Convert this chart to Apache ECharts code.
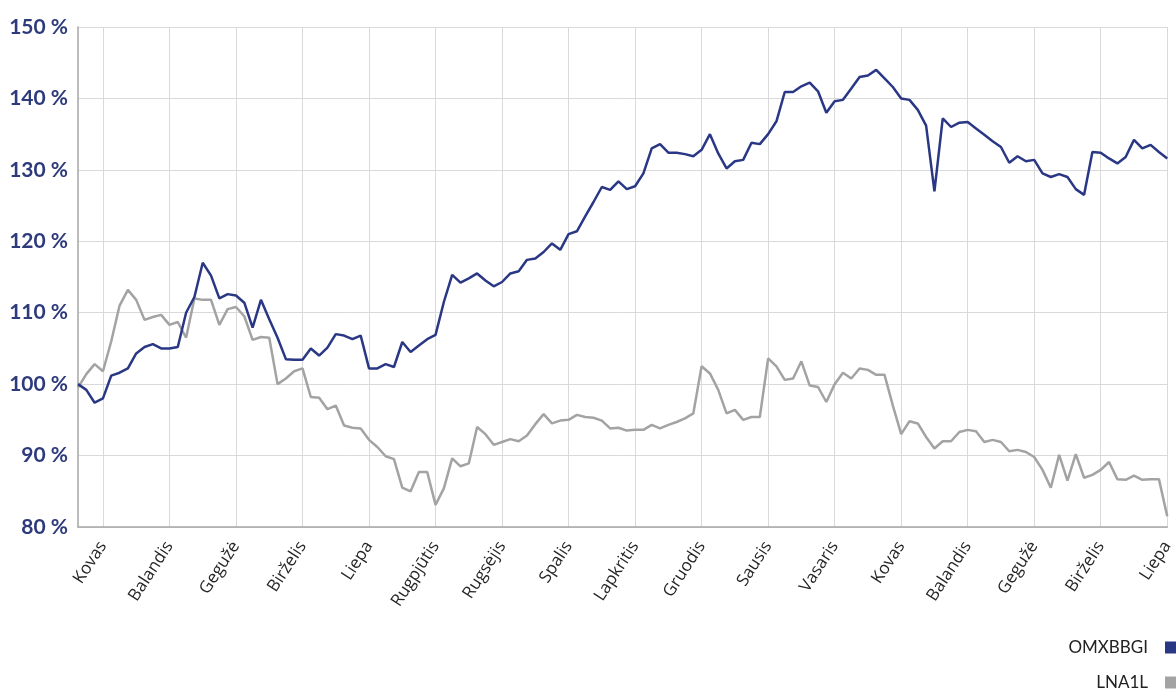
<!DOCTYPE html>
<html>
<head>
<meta charset="utf-8">
<script src="https://cdn.jsdelivr.net/npm/echarts@6/dist/echarts.min.js"></script>
<style>
html,body{margin:0;padding:0;background:#fff;}
#chart{width:1176px;height:696px;}
</style>
</head>
<body>
<div id="chart"></div>
<script>
// Month tick labels (one every 8 samples, first at sample 3)
var months = ['Kovas','Balandis','Gegužė','Birželis','Liepa','Rugpjūtis','Rugsėjis','Spalis','Lapkritis','Gruodis','Sausis','Vasaris','Kovas','Balandis','Gegužė','Birželis','Liepa'];
var samplesPerMonth = 8;
var firstMonthIndex = 3;

var seriesNames = ['OMXBBGI', 'LNA1L'];

var omxbbgi = [
100.0,99.2,97.4,98.0,101.2,101.6,102.2,104.3,105.2,105.6,105.0,105.0,105.2,110.0,112.2,117.0,115.2,112.0,
112.6,112.4,111.4,107.9,111.8,109.1,106.5,103.5,103.4,103.4,105.0,104.0,105.1,107.0,106.8,106.3,
106.8,102.2,102.2,102.8,102.4,105.9,104.5,105.4,106.3,106.9,111.5,115.3,114.2,114.8,115.5,114.5,113.7,
114.3,115.5,115.8,117.4,117.6,118.5,119.7,118.8,121.0,121.4,123.5,125.5,127.6,127.2,128.4,127.3,127.7,
129.5,133.0,133.6,132.4,132.4,132.2,131.9,132.8,135.0,132.3,130.2,131.2,131.4,133.8,133.6,135.0,136.8,
140.9,140.9,141.7,142.2,141.0,138.0,139.6,139.8,141.4,143.0,143.2,144.0,142.8,141.6,140.0,139.8,
138.4,136.2,127.0,137.2,136.0,136.6,136.7,135.8,134.9,134.0,133.2,131.0,131.9,131.2,131.4,129.5,129.0,
129.4,129.0,127.3,126.5,132.5,132.4,131.6,130.9,131.8,134.2,133.0,133.5,132.5,131.6
];

var lna1l = [
99.5,101.4,102.8,101.8,106.0,111.0,113.2,111.8,109.0,109.4,109.7,108.3,108.7,106.5,112.0,111.8,111.8,108.3,
110.5,110.8,109.5,106.2,106.6,106.5,100.0,100.8,101.8,102.2,98.2,98.1,96.5,97.0,94.2,93.9,
93.8,92.2,91.2,89.9,89.5,85.5,85.0,87.7,87.7,83.1,85.4,89.6,88.5,88.9,94.0,93.0,91.5,
91.9,92.3,92.0,92.8,94.4,95.8,94.5,94.9,95.0,95.7,95.4,95.3,94.9,93.8,93.9,93.5,93.6,
93.6,94.3,93.8,94.3,94.7,95.2,95.9,102.5,101.5,99.2,95.9,96.4,95.0,95.4,95.4,103.6,102.5,
100.6,100.8,103.2,99.8,99.6,97.5,100.0,101.6,100.8,102.2,102.0,101.3,101.3,97.0,93.0,94.8,
94.5,92.6,91.0,92.0,92.0,93.3,93.6,93.4,91.9,92.2,91.9,90.6,90.8,90.5,89.8,88.0,85.5,
90.1,86.5,90.2,86.9,87.3,88.0,89.1,86.7,86.6,87.2,86.6,86.7,86.7,81.5
];

var yTicks = { min: 80, max: 150, step: 10 };

var categories = omxbbgi.map(function (v, i) { return 's' + i; });
function isMonthTick(idx) {
  return idx >= firstMonthIndex && (idx - firstMonthIndex) % samplesPerMonth === 0;
}

var chart = echarts.init(document.getElementById('chart'), null, { renderer: 'canvas' });
chart.setOption({
  animation: false,
  backgroundColor: '#ffffff',
  grid: { left: 78, right: 6, top: 27, bottom: 169, containLabel: false },
  legend: {
    orient: 'vertical',
    right: 0,
    top: 639,
    padding: 0,
    align: 'right',
    icon: 'rect',
    itemWidth: 11,
    itemHeight: 12,
    itemGap: 18,
    textStyle: { color: '#222', fontSize: 17, fontFamily: 'Lato', padding: [0, 12, 0, 0] },
    data: seriesNames
  },
  xAxis: {
    type: 'category',
    data: categories,
    boundaryGap: false,
    axisLine: { show: true, lineStyle: { color: '#a6a6a6', width: 1.5 } },
    axisTick: { show: false },
    axisLabel: {
      interval: function (idx) { return isMonthTick(idx); },
      formatter: function (val, idx) { return months[(idx - firstMonthIndex) / samplesPerMonth]; },
      rotate: 57,
      margin: 16,
      color: '#262626',
      fontSize: 17,
      fontFamily: 'Open Sans'
    },
    splitLine: {
      show: true,
      interval: function (idx) { return isMonthTick(idx); },
      lineStyle: { color: '#d9d9d9', width: 1 }
    }
  },
  yAxis: {
    type: 'value',
    min: yTicks.min,
    max: yTicks.max,
    interval: yTicks.step,
    axisLine: { show: true, lineStyle: { color: '#a6a6a6', width: 1.5 } },
    axisTick: { show: false },
    axisLabel: {
      formatter: '{value} %',
      color: '#2d3a7c',
      fontWeight: 'bold',
      fontSize: 21,
      fontFamily: 'Lato',
      margin: 10
    },
    splitLine: { show: true, lineStyle: { color: '#d9d9d9', width: 1 } }
  },
  series: [
    {
      name: seriesNames[0],
      type: 'line',
      data: omxbbgi,
      symbol: 'none',
      z: 3,
      itemStyle: { color: '#2a3784' },
      lineStyle: { color: '#2a3784', width: 2.5 }
    },
    {
      name: seriesNames[1],
      type: 'line',
      data: lna1l,
      symbol: 'none',
      z: 2,
      itemStyle: { color: '#a3a3a3' },
      lineStyle: { color: '#a3a3a3', width: 2.5 }
    }
  ]
});
</script>
</body>
</html>
